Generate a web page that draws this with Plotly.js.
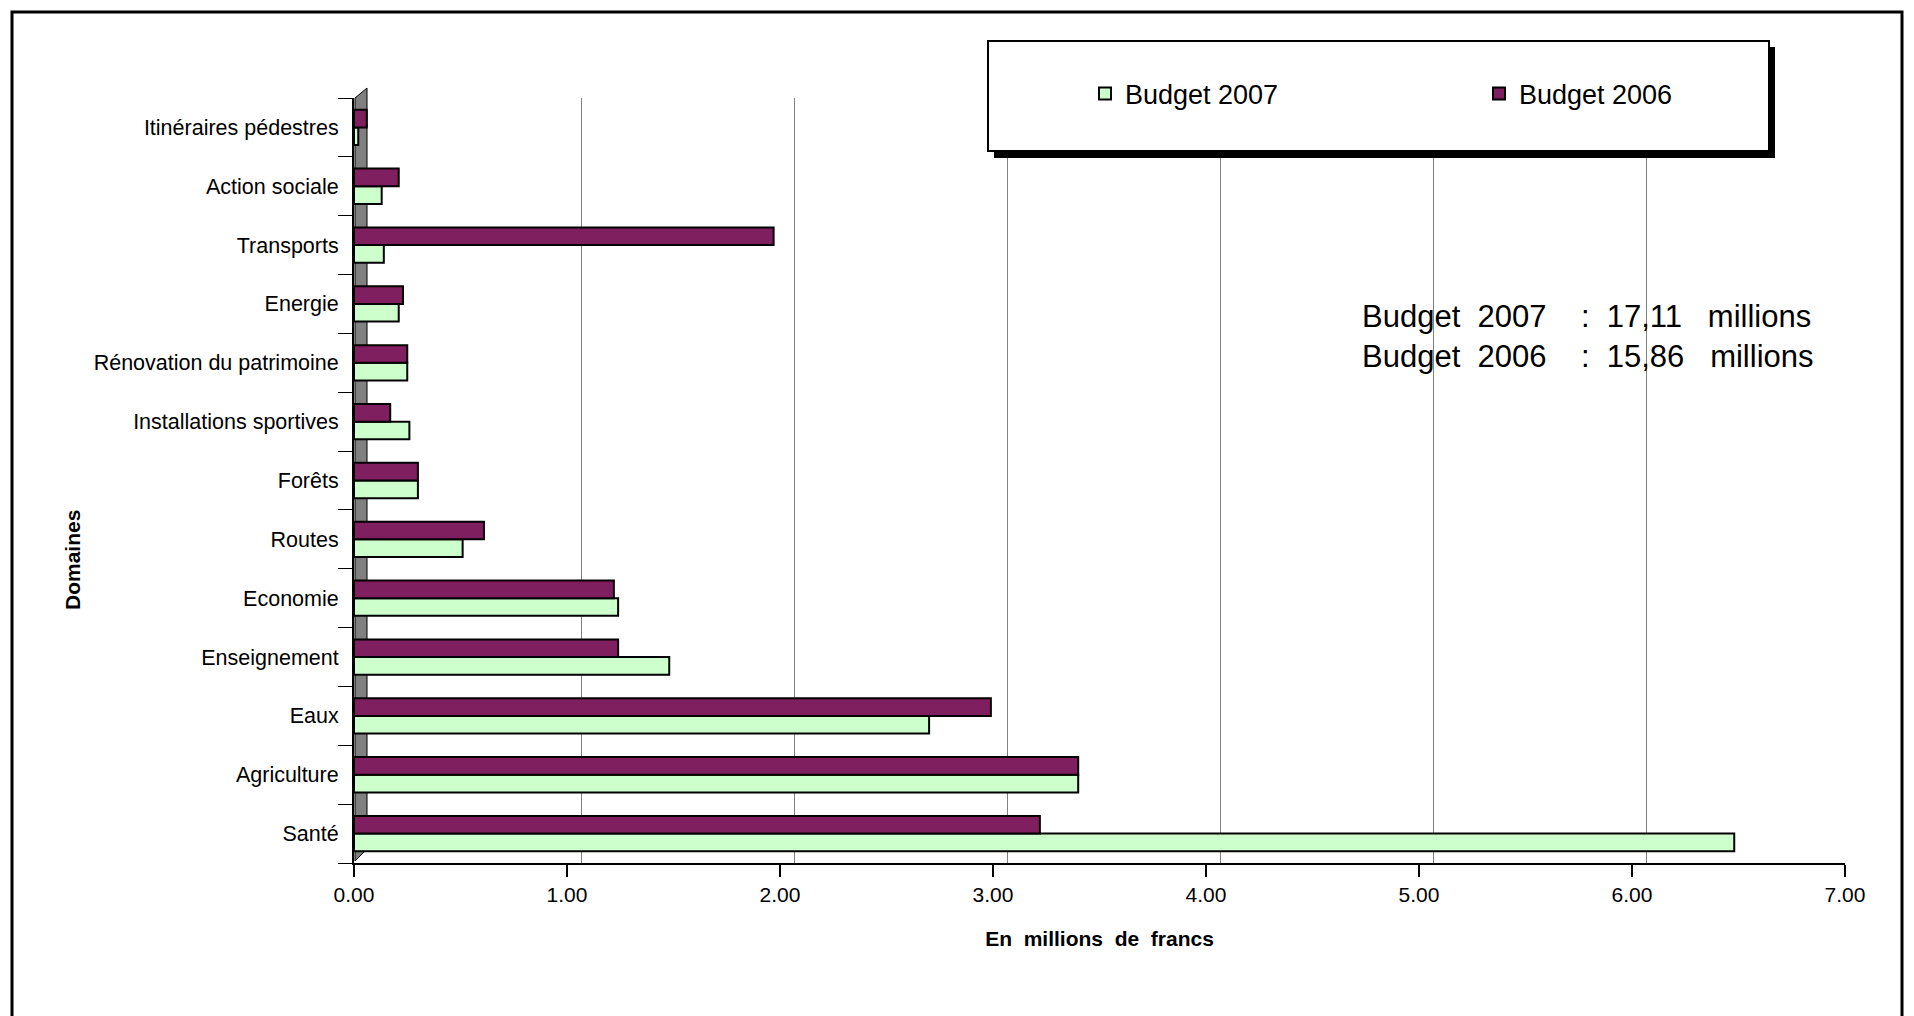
<!DOCTYPE html>
<html>
<head>
<meta charset="utf-8">
<script src="https://cdn.plot.ly/plotly-3.0.1.min.js"></script>
<style>
  html, body { margin: 0; padding: 0; background: #ffffff; }
  #chart { width: 1914px; height: 1016px; }
</style>
</head>
<body>
<div id="chart"></div>
<script>
// ---- Data ----
const domaines = [
  "Santé", "Agriculture", "Eaux", "Enseignement", "Economie", "Routes",
  "Forêts", "Installations sportives", "Rénovation du patrimoine",
  "Energie", "Transports", "Action sociale", "Itinéraires pédestres"
];
const budget2007 = [6.48, 3.40, 2.70, 1.48, 1.24, 0.51, 0.30, 0.26, 0.25, 0.21, 0.14, 0.13, 0.02];
const budget2006 = [3.22, 3.40, 2.99, 1.24, 1.22, 0.61, 0.30, 0.17, 0.25, 0.23, 1.97, 0.21, 0.06];
const seriesNames = ["Budget 2007", "Budget 2006"];
const xTicks = [0, 1, 2, 3, 4, 5, 6, 7];
const gridVals = [1, 2, 3, 4, 5, 6];

// ---- Layout geometry (pixels) ----
const W = 1914, H = 1016;
const L = 354, R = 1845, T = 98, B = 863;
const px = x => (x - L) / (R - L);
const py = y => (B - y) / (B - T);
const depth = 14 / ((R - L) / 7);   // 3D back-wall offset, in axis units

const green = "#CCFFCC", plum = "#801F5F";

const traces = [
  {
    type: "bar", orientation: "h", name: seriesNames[0],
    y: domaines, x: budget2007,
    marker: { color: green, line: { color: "#000000", width: 2 } },
    hoverinfo: "x+y"
  },
  {
    type: "bar", orientation: "h", name: seriesNames[1],
    y: domaines, x: budget2006,
    marker: { color: plum, line: { color: "#000000", width: 2 } },
    hoverinfo: "x+y"
  },
  // empty helper trace so that the back-wall grid axis is drawn
  { type: "scatter", x: [], y: [], xaxis: "x2", yaxis: "y", showlegend: false, hoverinfo: "skip" }
];

const nb = "\u00a0";
const sp = n => nb.repeat(n);

const layout = {
  width: W, height: H,
  paper_bgcolor: "#ffffff", plot_bgcolor: "rgba(0,0,0,0)",
  margin: { l: L, r: W - R, t: T, b: H - B, pad: 0 },
  font: { family: "Liberation Sans, Arial, sans-serif", color: "#000000", size: 21 },
  barmode: "group", bargap: 0.40, bargroupgap: 0,
  showlegend: true,
  legend: {
    orientation: "h", x: px(1085), y: py(94), xanchor: "left", yanchor: "middle",
    bgcolor: "rgba(0,0,0,0)", borderwidth: 0,
    font: { size: 27, color: "#000000" },
    entrywidth: 349, entrywidthmode: "pixels", traceorder: "normal"
  },
  xaxis: {
    range: [0, 7], tickvals: xTicks, tickformat: ".2f",
    showgrid: false,
    zeroline: false, showline: true, linecolor: "#000000", linewidth: 2,
    ticks: "outside", ticklen: 12, tickwidth: 2, tickcolor: "#000000",
    tickfont: { size: 21 }, ticklabelstandoff: 0,
    title: { text: "En" + sp(2) + "millions" + sp(2) + "de" + sp(2) + "francs",
             font: { size: 21, family: "Liberation Sans, Arial, sans-serif", weight: "bold" },
             standoff: 26 },
    fixedrange: true
  },
  xaxis2: {
    overlaying: "x", anchor: "y", side: "bottom",
    range: [-depth, 7 - depth], tickvals: gridVals,
    showgrid: true, gridcolor: "#808080", gridwidth: 1,
    showticklabels: false, ticks: "", showline: false, zeroline: false,
    fixedrange: true
  },
  yaxis: {
    type: "category", categoryorder: "array", categoryarray: domaines,
    showgrid: false, zeroline: false, showline: true, linecolor: "#000000", linewidth: 2,
    ticks: "outside", tickson: "boundaries", ticklen: 14, tickwidth: 1, tickcolor: "#000000",
    tickfont: { size: 21.5 }, ticklabelstandoff: 9,
    fixedrange: true
  },
  shapes: [
    // outer frame
    { type: "rect", xref: "paper", yref: "paper", x0: px(12), x1: px(1902), y0: py(1030), y1: py(12),
      line: { color: "#000000", width: 3 }, fillcolor: "rgba(0,0,0,0)", layer: "below" },
    // 3D side wall
    { type: "path", xref: "paper", yref: "paper",
      path: `M ${px(355)} ${py(98)} L ${px(367)} ${py(88)} L ${px(367)} ${py(849)} L ${px(355)} ${py(861)} Z`,
      fillcolor: "#808080", line: { color: "#000000", width: 1 }, layer: "below" },
    // legend shadow
    { type: "rect", xref: "paper", yref: "paper", x0: px(994), x1: px(1775), y0: py(158), y1: py(47),
      fillcolor: "#000000", line: { width: 0 }, layer: "above" },
    // legend box
    { type: "rect", xref: "paper", yref: "paper", x0: px(988), x1: px(1769), y0: py(151), y1: py(41),
      fillcolor: "#ffffff", line: { color: "#000000", width: 2 }, layer: "above" }
  ],
  annotations: [
    { xref: "paper", yref: "paper", x: px(72), y: py(560), xanchor: "center", yanchor: "middle",
      text: "<b>Domaines</b>", textangle: -90, showarrow: false,
      font: { size: 21, family: "Liberation Sans, Arial, sans-serif" } },
    { xref: "paper", yref: "paper", x: px(1360), y: py(336), xanchor: "left", yanchor: "middle",
      align: "left", showarrow: false,
      text: "Budget" + sp(2) + "2007" + sp(4) + ":" + sp(2) + "17,11" + sp(3) + "millions<br>" +
            "Budget" + sp(2) + "2006" + sp(4) + ":" + sp(2) + "15,86" + sp(3) + "millions",
      font: { size: 31, family: "Liberation Sans, Arial, sans-serif" } }
  ]
};

Plotly.newPlot("chart", traces, layout, { displayModeBar: false, staticPlot: true });
</script>
</body>
</html>
